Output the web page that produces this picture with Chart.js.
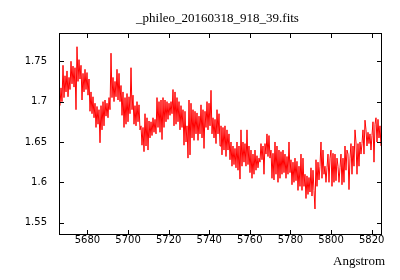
<!DOCTYPE html>
<html>
<head>
<meta charset="utf-8">
<script src="https://cdn.jsdelivr.net/npm/chart.js@4/dist/chart.umd.min.js"></script>
<style>
  html, body { margin: 0; padding: 0; background: #fff; }
  #wrap { width: 400px; height: 280px; }
</style>
</head>
<body>
<div id="wrap"><canvas id="myChart" width="400" height="280"></canvas></div>
<script>
// spectrum, one sample per pixel column
var title = "_phileo_20160318_918_39.fits";
var xLabel = "Angstrom";
var lambdaStart = 5666.5;
var lambdaStep = 0.4925;
var xTicks = [5680, 5700, 5720, 5740, 5760, 5780, 5800, 5820];
var yTicks = [1.55, 1.6, 1.65, 1.7, 1.75];
var flux = [
  1.695, 1.717, 1.700, 1.745, 1.705, 1.732, 1.712, 1.738, 1.706, 1.730, 1.715,
  1.750, 1.722, 1.744, 1.718, 1.742, 1.690, 1.768, 1.725, 1.752, 1.728,
  1.745, 1.702, 1.735, 1.712, 1.740, 1.715, 1.736, 1.708, 1.728, 1.688,
  1.712, 1.685, 1.706, 1.680, 1.698, 1.668, 1.694, 1.672, 1.690, 1.649,
  1.695, 1.665, 1.700, 1.670, 1.702, 1.682, 1.698, 1.680, 1.705, 1.690,
  1.760, 1.705, 1.730, 1.700, 1.725, 1.706, 1.740, 1.702, 1.735, 1.700,
  1.720, 1.683, 1.712, 1.668, 1.705, 1.672, 1.710, 1.675, 1.706, 1.685,
  1.742, 1.690, 1.708, 1.672, 1.695, 1.670, 1.700, 1.675, 1.696, 1.665,
  1.670, 1.646, 1.668, 1.638, 1.685, 1.645, 1.680, 1.640, 1.676, 1.655,
  1.675, 1.658, 1.680, 1.662, 1.678, 1.660, 1.705, 1.668, 1.700, 1.662,
  1.702, 1.653, 1.705, 1.668, 1.702, 1.675, 1.700, 1.678, 1.698, 1.683,
  1.700, 1.685, 1.715, 1.670, 1.712, 1.672, 1.705, 1.675, 1.700, 1.665,
  1.695, 1.668, 1.690, 1.646, 1.688, 1.650, 1.670, 1.630, 1.702, 1.634,
  1.698, 1.655, 1.690, 1.652, 1.688, 1.660, 1.686, 1.652, 1.682, 1.660,
  1.696, 1.655, 1.690, 1.642, 1.688, 1.668, 1.700, 1.665, 1.698, 1.670,
  1.714, 1.660, 1.680, 1.655, 1.678, 1.648, 1.690, 1.660, 1.685, 1.645,
  1.670, 1.634, 1.668, 1.640, 1.670, 1.632, 1.665, 1.640, 1.660, 1.628,
  1.650, 1.620, 1.645, 1.622, 1.642, 1.618, 1.650, 1.615, 1.645, 1.604,
  1.665, 1.620, 1.650, 1.625, 1.648, 1.620, 1.665, 1.622, 1.645, 1.612,
  1.640, 1.605, 1.635, 1.610, 1.640, 1.615, 1.633, 1.618, 1.630, 1.625,
  1.648, 1.628, 1.645, 1.610, 1.648, 1.635, 1.660, 1.632, 1.658, 1.630,
  1.640, 1.605, 1.636, 1.603, 1.650, 1.610, 1.645, 1.600, 1.640, 1.605,
  1.638, 1.610, 1.640, 1.612, 1.635, 1.605, 1.632, 1.610, 1.650, 1.612,
  1.628, 1.597, 1.625, 1.600, 1.630, 1.602, 1.626, 1.590, 1.620, 1.595,
  1.635, 1.590, 1.630, 1.595, 1.610, 1.580, 1.608, 1.585, 1.606, 1.588,
  1.618, 1.583, 1.615, 1.590, 1.567, 1.628, 1.595, 1.625, 1.603, 1.620,
  1.650, 1.605, 1.640, 1.610, 1.620, 1.600, 1.618, 1.635, 1.600, 1.630,
  1.640, 1.595, 1.636, 1.600, 1.635, 1.602, 1.630, 1.620, 1.600, 1.618,
  1.635, 1.597, 1.630, 1.600, 1.645, 1.615, 1.640, 1.635, 1.591, 1.630,
  1.648, 1.610, 1.645, 1.620, 1.665, 1.650, 1.610, 1.648, 1.620, 1.650,
  1.635, 1.648, 1.665, 1.635, 1.677, 1.665, 1.645, 1.662, 1.648, 1.660,
  1.640, 1.658, 1.675, 1.625, 1.672, 1.680, 1.650, 1.678, 1.655, 1.670,
  1.645
];

var points = flux.map(function (v, i) {
  return { x: lambdaStart + i * lambdaStep, y: v };
});

// gnuplot look: box border, inward ticks, serif title and xlabel
var gnuFrame = {
  id: 'gnuFrame',
  afterDraw: function (chart) {
    var ctx = chart.ctx, a = chart.chartArea;
    var sx = chart.scales.x, sy = chart.scales.y;
    ctx.save();
    ctx.strokeStyle = '#000';
    ctx.lineWidth = 1;
    ctx.strokeRect(a.left + 0.5, a.top + 0.5, a.width, a.height);
    ctx.beginPath();
    xTicks.forEach(function (v) {
      var px = Math.round(sx.getPixelForValue(v)) + 0.5;
      ctx.moveTo(px, a.bottom); ctx.lineTo(px, a.bottom - 4);
      ctx.moveTo(px, a.top + 1); ctx.lineTo(px, a.top + 5);
    });
    yTicks.forEach(function (v) {
      var py = Math.round(sy.getPixelForValue(v)) + 0.5;
      ctx.moveTo(a.left + 1, py); ctx.lineTo(a.left + 5, py);
      ctx.moveTo(a.right, py); ctx.lineTo(a.right - 4, py);
    });
    ctx.stroke();
    ctx.fillStyle = '#000';
    ctx.font = '13px "Liberation Serif"';
    ctx.textBaseline = 'middle';
    ctx.textAlign = 'center';
    ctx.fillText(title, 217.5, 19);
    ctx.textAlign = 'right';
    ctx.fillText(xLabel, 385, 262);
    ctx.restore();
  }
};

var ctx = document.getElementById('myChart');
var chart = new Chart(ctx, {
  type: 'line',
  data: {
    datasets: [{
      data: points,
      borderColor: '#ff0000',
      borderWidth: 1,
      pointRadius: 0,
      tension: 0,
      fill: false
    }]
  },
  options: {
    responsive: false,
    animation: false,
    layout: { padding: { top: 33, right: 19, left: 0, bottom: 0 } },
    plugins: { legend: { display: false }, tooltip: { enabled: false }, title: { display: false } },
    scales: {
      x: {
        type: 'linear',
        min: 5666.0,
        max: 5824.6,
        grid: { display: false, drawTicks: false },
        border: { display: false },
        afterBuildTicks: function (s) { s.ticks = xTicks.map(function (v) { return { value: v }; }); },
        afterFit: function (s) { s.height = 46; },
        ticks: {
          padding: 0,
          color: '#000',
          font: { family: 'DejaVu Sans', size: 10 },
          maxRotation: 0,
          autoSkip: false,
          callback: function (v) { return String(v); }
        }
      },
      y: {
        min: 1.536,
        max: 1.785,
        grid: { display: false, drawTicks: false },
        border: { display: false },
        afterBuildTicks: function (s) { s.ticks = yTicks.map(function (v) { return { value: v }; }); },
        afterFit: function (s) { s.width = 59; },
        ticks: {
          padding: 12,
          color: '#000',
          font: { family: 'DejaVu Sans', size: 10 },
          autoSkip: false,
          callback: function (v) { return String(v); }
        }
      }
    }
  },
  plugins: [gnuFrame]
});
</script>
</body>
</html>
